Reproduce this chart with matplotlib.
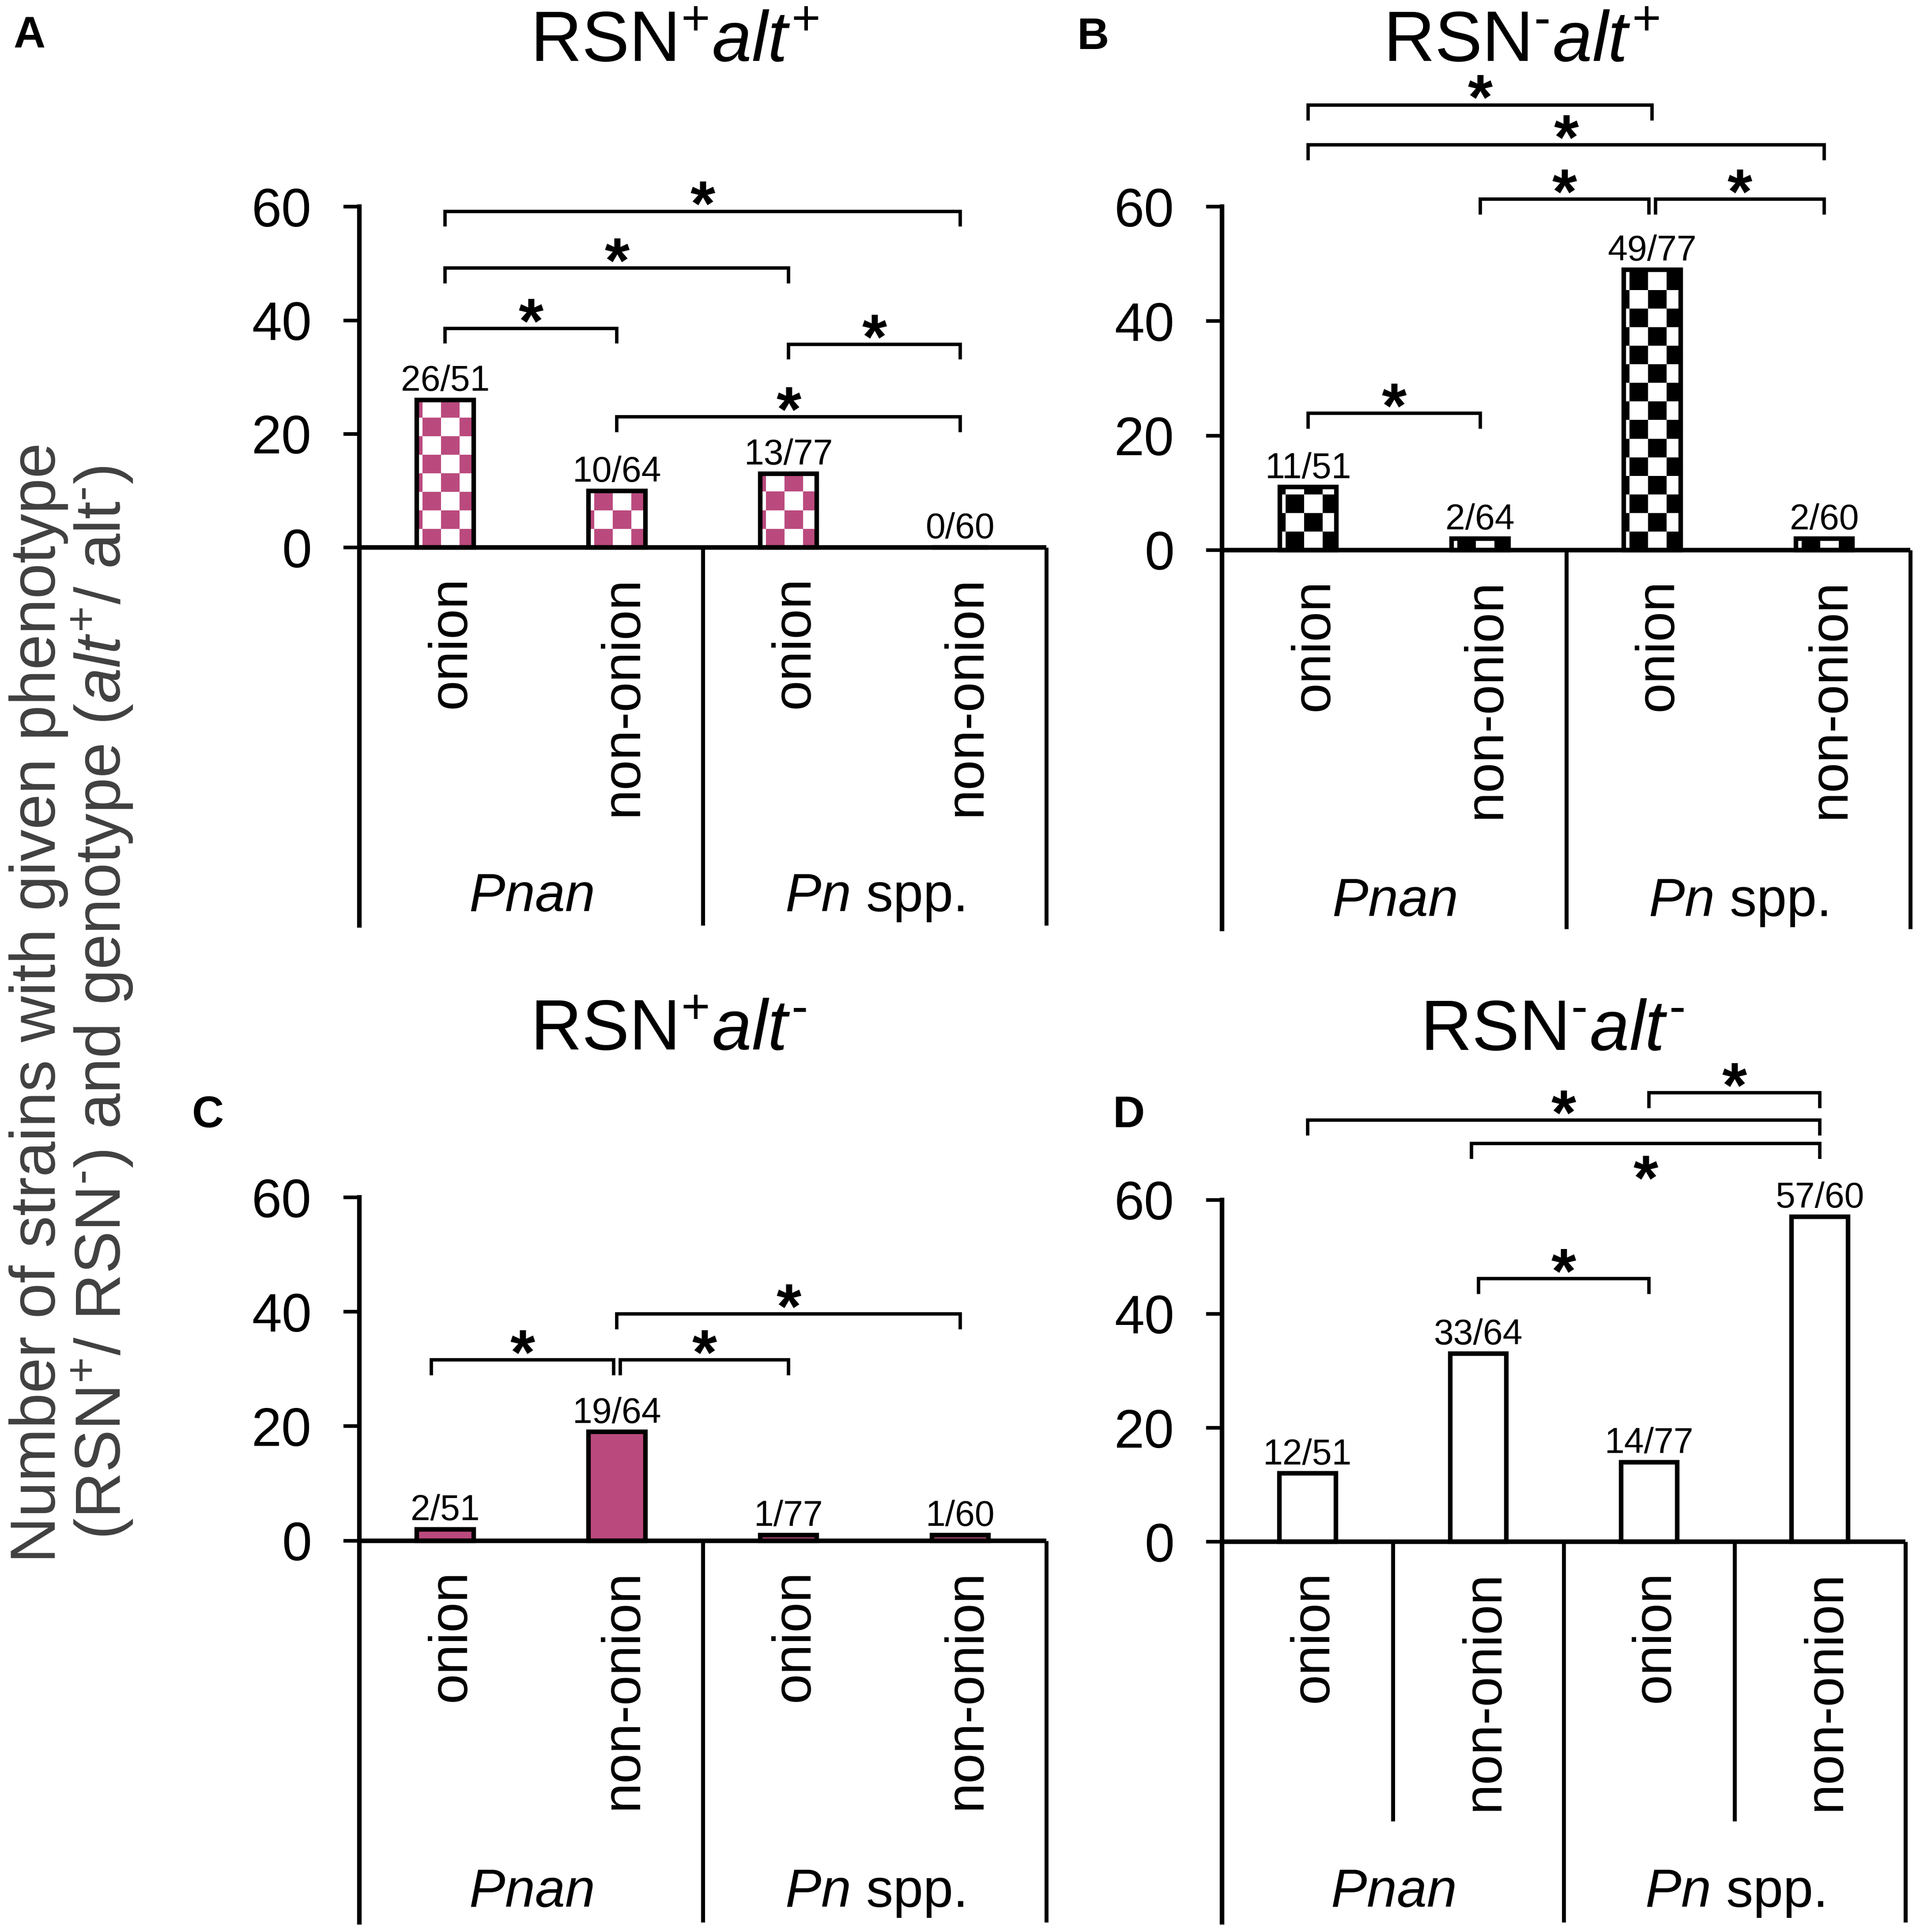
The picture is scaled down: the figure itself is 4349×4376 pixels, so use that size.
import numpy as np
import matplotlib
matplotlib.use('Agg')
import matplotlib.pyplot as plt
from matplotlib.colors import ListedColormap

plt.rcParams['font.family'] = ['Liberation Sans', 'DejaVu Sans']
plt.rcParams['mathtext.fontset'] = 'custom'
plt.rcParams['mathtext.rm'] = 'Liberation Sans'
plt.rcParams['mathtext.it'] = 'Liberation Sans:italic'
plt.rcParams['mathtext.bf'] = 'Liberation Sans:bold'

# ---------------- data ----------------
categories = ['onion', 'non-onion', 'onion', 'non-onion']
groups = [r'$\mathit{Pnan}$', r'$\mathit{Pn}$ spp.']

title_A = r'RSN$^{+}$$\mathit{alt}^{+}$'
title_B = r'RSN$^{\text{-}}$$\mathit{alt}^{+}$'
title_C = r'RSN$^{+}$$\mathit{alt}^{\text{-}}$'
title_D = r'RSN$^{\text{-}}$$\mathit{alt}^{\text{-}}$'

values_A = [26, 10, 13, 0]
values_B = [11, 2, 49, 2]
values_C = [2, 19, 1, 1]
values_D = [12, 33, 14, 57]

labels_A = ['26/51', '10/64', '13/77', '0/60']
labels_B = ['11/51', '2/64', '49/77', '2/60']
labels_C = ['2/51', '19/64', '1/77', '1/60']
labels_D = ['12/51', '33/64', '14/77', '57/60']

# significance brackets: (from category, to category, height, star above?)
brackets_A = [(0, 3, 59.2, True), (0, 2, 49.2, True), (0, 1, 38.6, True),
              (2, 3, 35.8, True), (1, 3, 23.0, True)]
brackets_B = [(0, 2, 77.8, True), (0, 3, 70.8, True), (1, 1.98, 61.3, True),
              (2.02, 3, 61.3, True), (0, 1, 23.9, True)]
brackets_C = [(1, 3, 39.6, True), (-0.08, 0.98, 31.6, True), (1.02, 2, 31.6, True)]
brackets_D = [(2, 3, 78.8, True), (0, 3, 74.0, True), (0.96, 3, 69.9, False),
              (1, 2, 46.2, True)]

yticks = [0, 20, 40, 60]
ylabel_1 = 'Number of strains with given phenotype'
ylabel_2 = r'(RSN$^{+}$/ RSN$^{\text{-}}$) and genotype ($\mathit{alt}^{+}$/ alt$^{\text{-}}$)'

PINK = '#BA4A7E'

# ---------------- layout (reference pixel geometry, 1560x1570 scale) ----------------
W, H = 4349, 4376
RW, RH = 1560.0, 1570.0
fig = plt.figure(figsize=(W / 100, H / 100), dpi=100)

panels = [
    dict(name='A', title=title_A, vals=values_A, labs=labels_A, br=brackets_A,
         fill='checker', color=PINK, L=292, R=850, T=168, Z=445, B=752,
         title_xy=(548, 50), letter_xy=(11, 39), inner=False),
    dict(name='B', title=title_B, vals=values_B, labs=labels_B, br=brackets_B,
         fill='checker', color='black', L=993, R=1552, T=168, Z=447, B=755,
         title_xy=(1236, 50), letter_xy=(875, 40), inner=False),
    dict(name='C', title=title_C, vals=values_C, labs=labels_C, br=brackets_C,
         fill='solid', color=PINK, L=292, R=850, T=973, Z=1252, B=1562,
         title_xy=(543, 853), letter_xy=(156, 916), inner=False),
    dict(name='D', title=title_D, vals=values_D, labs=labels_D, br=brackets_D,
         fill='solid', color='white', L=993, R=1548, T=975, Z=1253, B=1562,
         title_xy=(1261, 853), letter_xy=(904, 916), inner=True),
]

LW = 7.5
BAR_W = 0.33
CELL_PX = 42.0
STAR_FS = 104

x = np.arange(len(categories))

for p in panels:
    scale = (p['Z'] - p['T']) / 60.0
    ybot = -(p['B'] - p['Z']) / scale
    rect = [p['L'] / RW, 1 - p['B'] / RH, (p['R'] - p['L']) / RW, (p['B'] - p['T']) / RH]
    ax = fig.add_axes(rect)
    ax.set_xlim(-0.5, 3.5)
    ax.set_ylim(ybot, 60)
    for s in ['top', 'right', 'bottom']:
        ax.spines[s].set_visible(False)
    ax.spines['left'].set_linewidth(LW)
    ax.set_xticks([])
    ax.set_yticks(yticks)
    ax.tick_params(axis='y', direction='out', length=26, width=6, pad=52, labelsize=88)
    ax.patch.set_alpha(0)

    # x axis line at 0 and category dividers
    ax.plot([-0.5, 3.5], [0, 0], color='black', lw=LW, zorder=4, clip_on=False,
            solid_capstyle='butt')
    for xd in [1.5, 3.5]:
        ax.plot([xd, xd], [ybot, 0], color='black', lw=LW - 1, clip_on=False,
                solid_capstyle='butt')
    if p['inner']:
        for xd in [0.5, 2.5]:
            ax.plot([xd, xd], [-49, 0], color='black', lw=LW - 1, clip_on=False,
                    solid_capstyle='butt')

    face = p['color'] if p['fill'] == 'solid' else 'none'
    bars = ax.bar(x, p['vals'], width=BAR_W, facecolor=face, edgecolor='black',
                  linewidth=7.5, zorder=3)

    if p['fill'] == 'checker':
        ax_w_px = rect[2] * W
        ax_h_px = rect[3] * H
        cell_x = CELL_PX / (ax_w_px / 4.0)
        cell_y = CELL_PX / (ax_h_px / (60 - ybot))
        cmap = ListedColormap(['white', p['color']])
        for b in bars:
            h = b.get_height()
            if h <= 0:
                continue
            x0 = b.get_x() - 0.7 * cell_x
            nx = int(np.ceil((b.get_width() + cell_x) / cell_x)) + 1
            ny = int(np.ceil(h / cell_y)) + 1
            arr = np.add.outer(np.arange(ny), np.arange(nx)) % 2
            im = ax.imshow(arr[::-1], cmap=cmap, vmin=0, vmax=1,
                           extent=(x0, x0 + nx * cell_x, 0, ny * cell_y),
                           interpolation='nearest', aspect='auto', zorder=2.5)
            im.set_clip_path(b)
        ax.set_xlim(-0.5, 3.5)
        ax.set_ylim(ybot, 60)

    # value labels
    for xi, v, lab in zip(x, p['vals'], p['labs']):
        ax.annotate(lab, xy=(xi, v), xytext=(0, 15), textcoords='offset points',
                    ha='center', va='baseline', fontsize=58, annotation_clip=False)

    # category labels
    for xi, c in zip(x, categories):
        ax.text(xi + 0.035, -5.0, c, rotation=90, ha='center', va='top', fontsize=88)
    # group labels
    for gx, g in zip([0.5, 2.5], groups):
        ax.text(gx, -64.0, g, ha='center', va='baseline', fontsize=88)

    # brackets
    tick = 2.7
    for (a, b2, hh, above) in p['br']:
        ax.plot([a, a, b2, b2], [hh - tick, hh, hh, hh - tick], color='black', lw=5.5,
                clip_on=False, solid_joinstyle='miter', solid_capstyle='butt')
        off = -23 if above else -92
        ax.annotate('*', xy=((a + b2) / 2.0, hh), xytext=(0, off),
                    textcoords='offset points', ha='center', va='baseline',
                    fontsize=STAR_FS, fontweight='bold', annotation_clip=False)

    # title and panel letter
    tx, ty = p['title_xy']
    fig.text(tx / RW, 1 - ty / RH, p['title'], ha='center', va='baseline', fontsize=116)
    lx, ly = p['letter_xy']
    fig.text(lx / RW, 1 - ly / RH, p['name'], ha='left', va='baseline', fontsize=72,
             fontweight='bold')

# shared y label (two lines)
fig.text(45 / RW, 1 - 815 / RH, ylabel_1, rotation=90, rotation_mode='anchor',
         ha='center', va='baseline', fontsize=104, color='#404040')
fig.text(98 / RW, 1 - 815 / RH, ylabel_2, rotation=90, rotation_mode='anchor',
         ha='center', va='baseline', fontsize=104, color='#404040')

fig.savefig('out.png', dpi=100, facecolor='white')
